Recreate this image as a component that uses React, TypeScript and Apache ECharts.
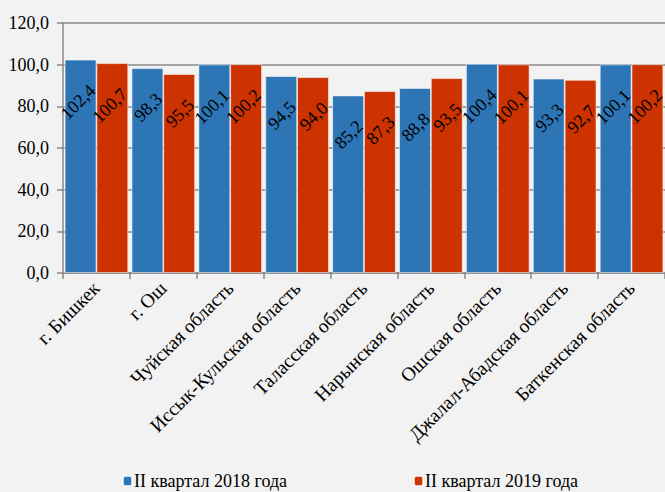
import React, { useEffect, useRef } from "react";
import * as echarts from "echarts";

const categories = [
  "г. Бишкек",
  "г. Ош",
  "Чуйская область",
  "Иссык-Кульская область",
  "Таласская область",
  "Нарынская область",
  "Ошская область",
  "Джалал-Абадская область",
  "Баткенская область",
];
const series2018 = [102.4, 98.3, 100.1, 94.5, 85.2, 88.8, 100.4, 93.3, 100.1];
const series2019 = [100.7, 95.5, 100.2, 94.0, 87.3, 93.5, 100.1, 92.7, 100.2];
const seriesNames = ["II квартал 2018 года", "II квартал 2019 года"];

const FONT = "Liberation Serif";
const fmt = (v: number) => v.toFixed(1).replace(".", ",");

export default function App() {
  const ref = useRef<HTMLDivElement>(null);
  useEffect(() => {
    if (!ref.current) return;
    const chart = echarts.init(ref.current, null, { renderer: "svg" });
    const label = {
      show: true,
      position: ["87%", 28] as any,
      rotate: 45,
      align: "right",
      verticalAlign: "middle",
      color: "#000",
      fontFamily: FONT,
      fontSize: 18,
      formatter: (p: any) => fmt(p.value),
    };
    chart.setOption({
      animation: false,
      backgroundColor: "#f2f2f2",
      textStyle: { fontFamily: FONT },
      grid: { left: 63, top: 23, bottom: 219, right: -11, containLabel: false },
      legend: {
        left: 122,
        top: 472,
        padding: 0,
        itemWidth: 9,
        itemHeight: 10,
        itemGap: 126,
        textStyle: { fontFamily: FONT, fontSize: 18, color: "#000", padding: [0, 0, 0, -3] },
        data: seriesNames,
      },
      xAxis: {
        type: "category",
        data: categories,
        axisLine: { lineStyle: { color: "#898989", width: 1.5 } },
        axisTick: { show: true, length: 6, lineStyle: { color: "#898989", width: 1.5 } },
        axisLabel: {
          interval: 0,
          rotate: 45,
          margin: 12,
          color: "#000",
          fontFamily: FONT,
          fontSize: 19.5,
        },
      },
      yAxis: {
        type: "value",
        min: 0,
        max: 120,
        interval: 20,
        axisLine: { show: true, lineStyle: { color: "#898989", width: 1.5 } },
        axisTick: { show: true, length: 6, lineStyle: { color: "#898989", width: 1.5 } },
        splitLine: { lineStyle: { color: "#898989", width: 1.5 } },
        axisLabel: {
          margin: 14,
          color: "#000",
          fontFamily: FONT,
          fontSize: 18,
          formatter: (v: number) => fmt(v),
        },
      },
      series: [
        {
          name: seriesNames[0],
          type: "bar",
          data: series2018,
          barGap: "0%",
          barCategoryGap: "5%",
          itemStyle: { color: "#2e75b6", borderColor: "rgba(255,255,255,0.7)", borderWidth: 0.8 },
          label,
        },
        {
          name: seriesNames[1],
          type: "bar",
          data: series2019,
          itemStyle: { color: "#cc3300", borderColor: "rgba(255,255,255,0.7)", borderWidth: 0.8 },
          label,
        },
      ],
    });
    return () => chart.dispose();
  }, []);
  return (
    <div
      ref={ref}
      style={{ position: "absolute", left: 0, top: 0, width: 665, height: 492, overflow: "hidden" }}
    />
  );
}
